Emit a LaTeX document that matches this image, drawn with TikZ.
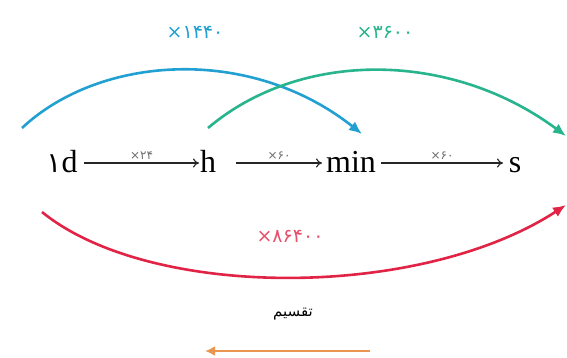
\documentclass[tikz,border=0pt]{standalone}
\usepackage{fontspec}
\setmainfont{Liberation Serif}
\newfontfamily\fa[Script=Arabic]{DejaVu Sans}
\newfontfamily\fadig{DejaVu Sans}
\TeXXeTstate=1
\usetikzlibrary{arrows.meta}
\definecolor{cyanarc}{RGB}{35,160,210}
\definecolor{greenarc}{RGB}{40,180,140}
\definecolor{redarc}{RGB}{225,35,70}
\definecolor{orangearc}{RGB}{235,150,80}
\definecolor{lblgray}{RGB}{110,110,110}
\tikzset{
  unit/.style={font=\fontsize{32}{34}\selectfont, inner sep=0pt, anchor=base},
  conv/.style={-{To[length=6pt,width=9pt]}, line width=1.1pt, black!85},
  small/.style={font=\fadig\fontsize{12}{14}\selectfont, text=lblgray, inner sep=1pt},
  big/.style={font=\fadig\fontsize{19}{22}\selectfont, inner sep=1pt},
  arc/.style={line width=2.6pt, -{Latex[length=13pt,width=11pt]}}
}
\begin{document}
\begin{tikzpicture}[x=1pt,y=-1pt]
\useasboundingbox[fill=white] (0,0) rectangle (567,358);
% main row
\node[unit] (d) at (62,172) {{\fadig\fontsize{28}{30}\selectfont ۱}d};
\node[unit] (h) at (208,172) {h};
\node[unit] (m) at (351,172) {min};
\node[unit] (s) at (515,172) {s};
\coordinate (d1) at (84,163);
\coordinate (h0) at (199,163);
\coordinate (h1) at (236,163);
\coordinate (m0) at (322,163);
\coordinate (m1) at (381,163);
\coordinate (s0) at (503,163);
\draw[conv] (d1) -- node[small, above=2pt] {×۲۴} (h0);
\draw[conv] (h1) -- node[small, above=2pt] {×۶۰} (m0);
\draw[conv] (m1) -- node[small, above=2pt] {×۶۰} (s0);
% arcs
\coordinate (c0) at (22,128);
\coordinate (c1) at (362,134);
\coordinate (g0) at (208,128);
\coordinate (g1) at (566,136);
\coordinate (r0) at (42,212);
\coordinate (r1) at (566,205);
\draw[arc, cyanarc] (c0) .. controls (100,55) and (250,45) .. (c1);
\draw[arc, greenarc] (g0) .. controls (300,50) and (450,50) .. (g1);
\draw[arc, redarc] (r0) .. controls (150,300) and (420,300) .. (r1);
\node[big, text=cyanarc] (lc) at (195,32) {×۱۴۴۰};
\node[big, text=greenarc] (lg) at (385,32) {×۳۶۰۰};
\node[big, text=redarc!80] (lr) at (290,236) {×۸۶۴۰۰};
% division
\node[font=\fa\fontsize{15}{17}\selectfont, inner sep=1pt] (div) at (293,314) {\beginR تقسیم\endR};
\coordinate (o0) at (370,351);
\coordinate (o1) at (205,351);
\draw[line width=2.6pt, orangearc, -{Latex[length=10pt,width=10pt]}] (o0) -- (o1);
\end{tikzpicture}
\end{document}
